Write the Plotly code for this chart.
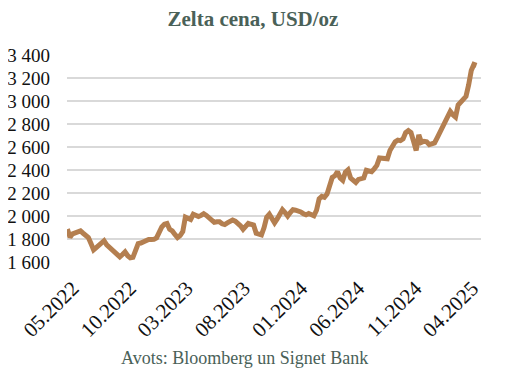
import pandas as pd
import plotly.graph_objects as go

# Weekly gold price, USD/oz
start_date = "2022-04-22"
prices = [
    1886, 1815, 1845, 1855, 1860, 1870, 1850, 1830, 1812, 1760,
    1705, 1725, 1745, 1770, 1785, 1750, 1730, 1715, 1695, 1665,
    1645, 1665, 1688, 1655, 1636, 1640, 1700, 1760, 1765, 1775,
    1790, 1795, 1796, 1797, 1810, 1860, 1905, 1928, 1935, 1885,
    1870, 1840, 1812, 1830, 1864, 1990, 1982, 1970, 2015, 2005,
    1995, 2005, 2020, 2005, 1985, 1955, 1945, 1950, 1950, 1932,
    1925, 1940, 1958, 1965, 1955, 1940, 1915, 1885, 1910, 1936,
    1928, 1922, 1850, 1840, 1835, 1900, 1990, 2015, 1980, 1940,
    1975, 2010, 2055, 2030, 2000, 2030, 2055, 2050, 2045, 2035,
    2020, 2010, 2022, 2015, 2002, 2050, 2150, 2170, 2162, 2190,
    2260, 2335, 2350, 2385, 2330, 2310, 2380, 2400, 2330, 2305,
    2292, 2318, 2322, 2330, 2398, 2392, 2385, 2410, 2440, 2505,
    2505, 2500, 2498, 2570, 2610, 2645, 2660, 2655, 2670, 2725,
    2742, 2725, 2650, 2570, 2705, 2640, 2650, 2645, 2620, 2625,
    2635, 2680, 2730, 2775, 2830, 2870, 2910, 2880, 2860, 2965,
    2995, 3010, 3040, 3140, 3265, 3318, 3310,
]
dates = pd.date_range(start_date, periods=len(prices), freq="7D")

x_tick_dates = ["2022-05-01", "2022-10-01", "2023-03-01", "2023-08-01",
                "2024-01-01", "2024-06-01", "2024-11-01", "2025-04-01"]
x_tick_labels = ["05.2022", "10.2022", "03.2023", "08.2023",
                 "01.2024", "06.2024", "11.2024", "04.2025"]
y_tick_values = [1600, 1800, 2000, 2200, 2400, 2600, 2800, 3000, 3200, 3400]
y_tick_labels = ["1 600", "1 800", "2 000", "2 200", "2 400",
                 "2 600", "2 800", "3 000", "3 200", "3 400"]

title_text = "Zelta cena, USD/oz"
source_text = "Avots: Bloomberg un Signet Bank"

FONT = "Liberation Serif"
LINE_COLOR = "#B47F50"
TEXT_GREEN = "#4A6158"

# the page body adds an 8 px offset; figure coordinates compensate for it
W, H = 511, 380
L, R, T, B = 59, 38, 47, 126
plot_h = H - T - B

fig = go.Figure()
fig.add_trace(go.Scatter(
    x=dates, y=prices, mode="lines",
    line=dict(color=LINE_COLOR, width=5),
    hoverinfo="skip", showlegend=False,
))

fig.update_layout(
    width=W, height=H,
    margin=dict(l=L, r=R, t=T, b=B, autoexpand=False),
    paper_bgcolor="white", plot_bgcolor="white",
    font=dict(family=FONT, color="#111111", size=19),
    title=dict(text="<b>" + title_text + "</b>", x=(253 - 8) / W,
               xanchor="center", y=1, yanchor="top", pad=dict(t=3),
               font=dict(family=FONT, size=21, color=TEXT_GREEN)),
    showlegend=False,
)
fig.update_xaxes(
    type="date", automargin=False,
    range=[pd.Timestamp("2022-04-21"), pd.Timestamp("2025-04-30")],
    tickvals=x_tick_dates, ticktext=x_tick_labels, tickangle=-45,
    showgrid=False, zeroline=False, showline=False, ticks="",
    ticklabelstandoff=9, ticklabelshift=2,
    tickfont=dict(family=FONT, size=21, color="#111111"),
)
fig.update_yaxes(
    automargin=False,
    range=[1600, 3400],
    tickvals=y_tick_values, ticktext=y_tick_labels,
    showgrid=True, gridcolor="#D9D9D9", gridwidth=2,
    zeroline=False, showline=False, ticks="",
    ticklabelstandoff=16,
    tickfont=dict(family=FONT, size=19, color="#111111"),
)
fig.add_annotation(
    text=source_text, xref="paper", yref="paper",
    x=(244 - 8 - L) / (W - L - R), y=(H - 350 - B) / plot_h,
    xanchor="center", yanchor="middle", showarrow=False,
    font=dict(family=FONT, size=18, color=TEXT_GREEN),
)

fig.write_html("out.html")
